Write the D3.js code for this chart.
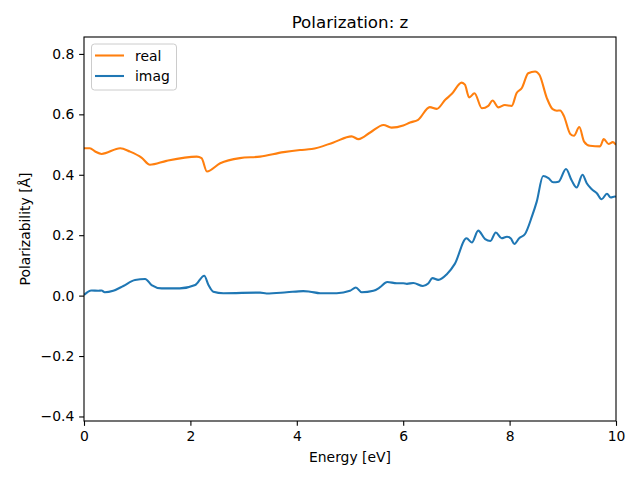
<!DOCTYPE html>
<html><head><meta charset="utf-8">
<script src="https://cdn.jsdelivr.net/npm/d3@7"></script>
<style>body{margin:0;background:#fff}svg{display:block;font-family:"DejaVu Sans",sans-serif}</style>
</head><body><svg id="c" width="640" height="480"></svg>
<script>
const realE = [0.00,0.11,0.21,0.33,0.68,0.86,1.08,1.24,1.55,2.12,2.21,2.31,2.56,2.93,3.31,3.75,4.06,4.28,4.69,5.03,5.16,5.38,5.63,5.78,6.00,6.13,6.28,6.50,6.63,6.79,6.91,7.10,7.16,7.24,7.34,7.48,7.60,7.68,7.79,7.91,8.04,8.13,8.23,8.35,8.48,8.56,8.70,8.81,8.89,8.95,9.02,9.14,9.21,9.31,9.40,9.51,9.70,9.77,9.86,9.94,10.0];
const realV = [0.488,0.488,0.477,0.469,0.488,0.477,0.457,0.433,0.446,0.460,0.455,0.411,0.438,0.455,0.460,0.475,0.482,0.485,0.507,0.527,0.518,0.540,0.565,0.556,0.563,0.573,0.582,0.624,0.618,0.648,0.667,0.705,0.698,0.656,0.670,0.620,0.628,0.646,0.623,0.631,0.628,0.670,0.687,0.736,0.742,0.731,0.654,0.617,0.612,0.613,0.595,0.535,0.529,0.558,0.510,0.496,0.494,0.518,0.502,0.508,0.499];
const imagE = [0.00,0.14,0.27,0.33,0.39,0.55,0.74,0.96,1.15,1.27,1.46,1.80,2.09,2.26,2.34,2.43,2.62,3.31,3.43,3.81,4.12,4.25,4.44,4.75,5.00,5.11,5.22,5.44,5.56,5.70,5.88,6.00,6.07,6.19,6.37,6.47,6.55,6.66,6.82,6.97,7.19,7.29,7.41,7.54,7.64,7.74,7.85,7.95,8.02,8.09,8.18,8.29,8.42,8.51,8.63,8.73,8.82,8.92,9.06,9.17,9.26,9.37,9.45,9.54,9.64,9.73,9.83,9.90,9.98,10.0];
const imagV = [0.002,0.017,0.016,0.017,0.011,0.016,0.032,0.052,0.055,0.035,0.024,0.024,0.035,0.066,0.035,0.013,0.008,0.010,0.007,0.011,0.015,0.013,0.008,0.008,0.016,0.027,0.011,0.016,0.027,0.045,0.041,0.041,0.039,0.042,0.032,0.040,0.058,0.052,0.071,0.105,0.190,0.176,0.215,0.187,0.181,0.209,0.190,0.195,0.190,0.171,0.190,0.204,0.262,0.311,0.396,0.389,0.375,0.377,0.419,0.380,0.358,0.400,0.372,0.353,0.339,0.319,0.337,0.325,0.328,0.327];
const xTicks = [0,2,4,6,8,10];
const yTicks = [-0.4,-0.2,0,0.2,0.4,0.6,0.8];
const seriesNames = ["real","imag"];
const colors = ["#ff7f0e","#1f77b4"];

const svg = d3.select("#c");
const L=84,R=616,T=37,B=421;
const x = d3.scaleLinear().domain([0,10]).range([L,R]);
const y = d3.scaleLinear().domain([-0.415,0.856]).range([B,T]);
const fmtY = v => (v<0?"\u2212":"") + Math.abs(v).toFixed(1);

const g = svg.append("g");
g.append("defs").append("clipPath").attr("id","clip").append("rect")
 .attr("x",L).attr("y",T).attr("width",R-L).attr("height",B-T);

const line = d3.line().x(d=>x(d[0])).y(d=>y(d[1])).curve(d3.curveMonotoneX);
const series = [realE.map((e,i)=>[e,realV[i]]), imagE.map((e,i)=>[e,imagV[i]])];
series.forEach((s,i)=>{
  g.append("path").attr("d",line(s)).attr("fill","none").attr("stroke",colors[i])
   .attr("stroke-width",2.08).attr("stroke-linejoin","round").attr("clip-path","url(#clip)");
});

const xa = svg.append("g").attr("transform",`translate(0,${B})`)
  .call(d3.axisBottom(x).tickValues(xTicks).tickSize(4.86).tickPadding(4.9).tickFormat(d3.format("d")));
const ya = svg.append("g").attr("transform",`translate(${L},0)`)
  .call(d3.axisLeft(y).tickValues(yTicks).tickSize(4.86).tickPadding(4.9).tickFormat(fmtY));
[xa,ya].forEach(a=>{
  a.select(".domain").remove();
  a.selectAll("line").attr("stroke","#000").attr("stroke-width",1.1);
  a.selectAll("text").attr("fill","#000").style("font-size","13.9px").style("font-family","DejaVu Sans");
});
svg.append("rect").attr("x",L).attr("y",T).attr("width",R-L).attr("height",B-T)
  .attr("fill","none").attr("stroke","#000").attr("stroke-width",1.1);

svg.append("text").attr("x",(L+R)/2).attr("y",28).attr("text-anchor","middle")
  .style("font-size","16.7px").text("Polarization: z");
svg.append("text").attr("x",(L+R)/2).attr("y",462).attr("text-anchor","middle")
  .style("font-size","13.9px").text("Energy [eV]");
svg.append("text").attr("transform",`translate(30,${(T+B)/2}) rotate(-90)`).attr("text-anchor","middle")
  .style("font-size","13.9px").text("Polarizability [Å]");

const lg = svg.append("g");
lg.append("rect").attr("x",91.5).attr("y",44).attr("width",85).attr("height",46).attr("rx",3)
  .attr("fill","#fff").attr("fill-opacity",0.8).attr("stroke","#ccc").attr("stroke-width",1);
seriesNames.forEach((n,i)=>{
  const yy = 55.5 + i*20.5;
  lg.append("line").attr("x1",95).attr("x2",124).attr("y1",yy).attr("y2",yy)
    .attr("stroke",colors[i]).attr("stroke-width",2.08);
  lg.append("text").attr("x",135).attr("y",yy+5).style("font-size","13.9px").text(n);
});
</script></body></html>
